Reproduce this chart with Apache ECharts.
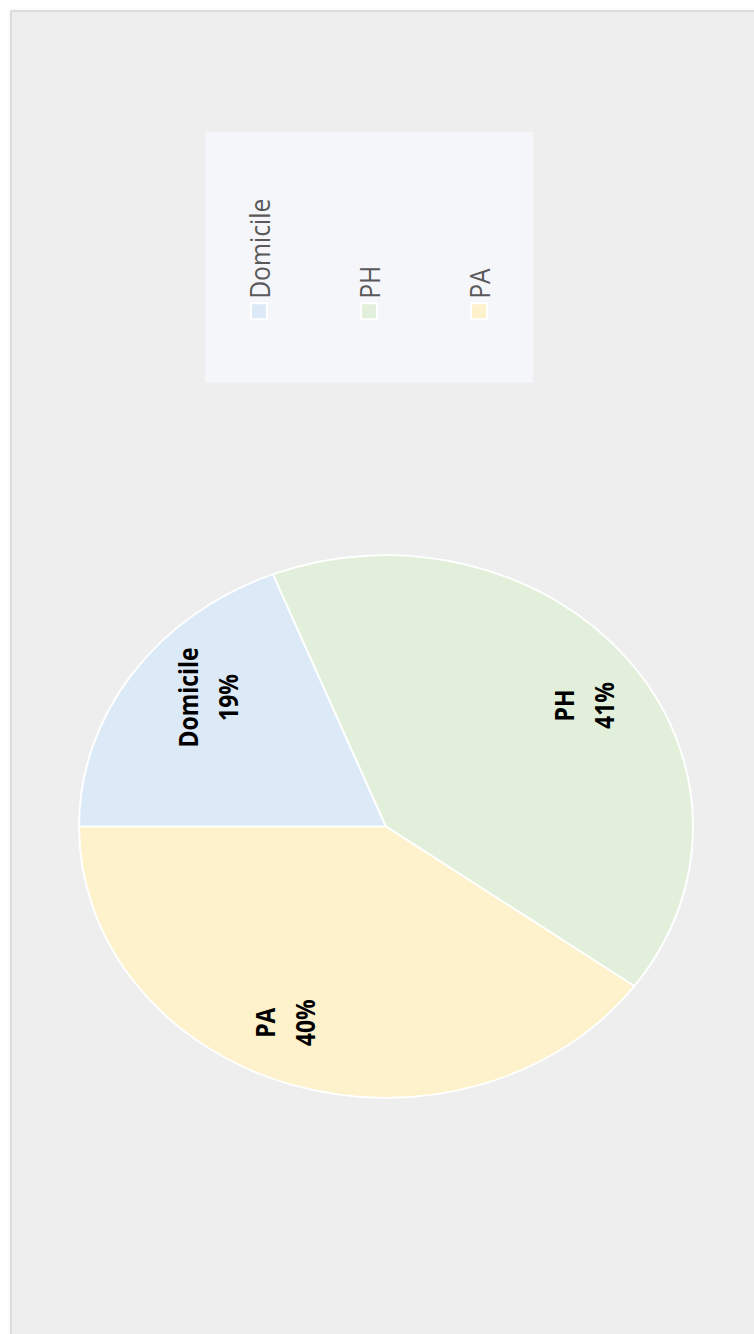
<!DOCTYPE html>
<html>
<head>
<meta charset="utf-8">
<script src="https://cdn.jsdelivr.net/npm/echarts@6/dist/echarts.min.js"></script>
<style>
  html, body { margin: 0; padding: 0; background: #ffffff; width: 754px; height: 1334px; overflow: hidden; }
  #frame { position: absolute; left: 10px; top: 10px; width: 760px; height: 1340px;
           background: #eeeeee; border: 2px solid #dcdcdc; box-shadow: 0 0 3px rgba(0,0,0,0.08); }
  #chart { position: absolute; left: 0; top: 0; width: 1509px; height: 754px;
           transform-origin: 0 0; transform: translate(0px, 1334px) scale(1, 0.884) rotate(-90deg); }
</style>
</head>
<body>
<div id="frame"></div>
<div id="chart"></div>
<script>
const categories = ['Domicile', 'PH', 'PA'];
const values = [19, 41, 40];
const sliceColors = ['#dce9f7', '#e2efda', '#fdf2cc'];
const labelNudges = [[15, 15], [-6, 14], [0, -29]];

const pieData = categories.map((name, i) => ({ name: name, value: values[i], itemStyle: { color: sliceColors[i] } }));
const labelData = categories.map((name, i) => ({ name: name, value: values[i], label: { offset: labelNudges[i] } }));

const chart = echarts.init(document.getElementById('chart'), null, { renderer: 'svg' });
chart.setOption({
  backgroundColor: 'transparent',
  animation: false,
  legend: {
    orient: 'vertical',
    left: 1076,
    top: 205,
    padding: [40, 75, 40, 71],
    backgroundColor: '#f4f6f9',
    itemWidth: 18,
    itemHeight: 16,
    itemGap: 82,
    icon: 'rect',
    textStyle: { fontFamily: 'Open Sans', fontSize: 28, color: '#595959' },
    data: categories.map((name, i) => ({ name: name, itemStyle: { color: sliceColors[i], borderColor: '#ffffff', borderWidth: 2 } }))
  },
  series: [
    {
      type: 'pie',
      name: 'share',
      center: [574, 386],
      radius: 307,
      startAngle: 90,
      clockwise: true,
      label: { show: false },
      labelLine: { show: false },
      itemStyle: { borderColor: '#ffffff', borderWidth: 2 },
      emphasis: { disabled: true },
      data: pieData
    },
    {
      type: 'pie',
      name: 'labels',
      center: [574, 386],
      radius: [153.5, 307],
      startAngle: 90,
      clockwise: true,
      silent: true,
      legendHoverLink: false,
      itemStyle: { color: 'transparent', borderWidth: 0 },
      emphasis: { disabled: true },
      label: {
        show: true,
        position: 'inside',
        formatter: '{b}\n{c}%',
        fontFamily: "'Liberation Sans Narrow', 'Arial Narrow', 'Open Sans'",
        fontWeight: 'bold',
        fontSize: 26,
        lineHeight: 40,
        color: '#000000'
      },
      labelLine: { show: false },
      data: labelData
    }
  ]
});
</script>
</body>
</html>
